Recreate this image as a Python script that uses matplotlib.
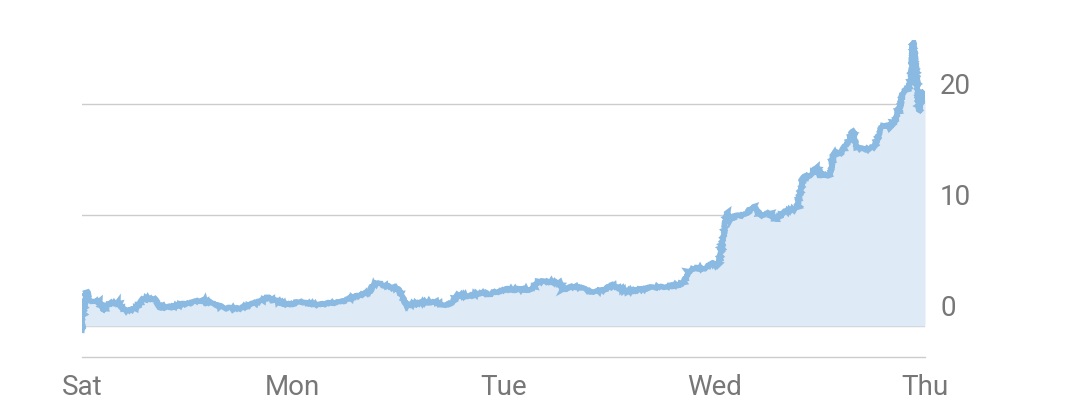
import matplotlib
matplotlib.use("Agg")
import matplotlib.pyplot as plt

# time in day-index units (Sat=0 ... Thu=4), value
t = [0.000, 0.005, 0.014, 0.024, 0.033, 0.052, 0.085, 0.100, 0.133, 0.171,
     0.204, 0.251, 0.289, 0.313, 0.346, 0.370, 0.418, 0.465, 0.512, 0.584,
     0.617, 0.679, 0.750, 0.797, 0.854, 0.883, 0.916, 0.977, 1.034, 1.120,
     1.177, 1.224, 1.272, 1.319, 1.367, 1.381, 1.414, 1.461, 1.499, 1.518,
     1.533, 1.556, 1.604, 1.675, 1.722, 1.756, 1.784, 1.841, 1.888, 1.936,
     2.007, 2.078, 2.135, 2.164, 2.221, 2.268, 2.282, 2.339, 2.387, 2.425,
     2.482, 2.515, 2.586, 2.648, 2.719, 2.790, 2.852, 2.876, 2.909, 2.956,
     2.989, 3.023, 3.037, 3.051, 3.061, 3.075, 3.099, 3.146, 3.184, 3.218,
     3.265, 3.288, 3.336, 3.393, 3.407, 3.421, 3.454, 3.488, 3.502, 3.549,
     3.568, 3.597, 3.634, 3.658, 3.677, 3.715, 3.763, 3.786, 3.810, 3.834,
     3.858, 3.881, 3.896, 3.919, 3.934, 3.943, 3.953, 3.962, 3.972, 3.981,
     3.991, 4.000]
values = [-0.4, 0.7, 2.4, 3.1, 2.4, 2.2, 2.2, 1.3, 2.1, 2.1,
          1.4, 1.5, 2.4, 2.5, 2.4, 1.7, 1.7, 1.9, 2.1, 2.3,
          2.0, 1.6, 1.6, 1.9, 2.3, 2.6, 2.3, 1.9, 2.2, 1.9,
          2.1, 2.1, 2.5, 2.8, 3.1, 3.8, 3.8, 3.5, 3.4, 2.7,
          1.9, 1.9, 2.1, 2.2, 1.8, 2.1, 2.8, 2.7, 3.0, 2.9,
          3.3, 3.3, 3.3, 4.0, 4.0, 3.9, 3.3, 3.6, 3.3, 3.0,
          3.3, 3.7, 3.1, 3.3, 3.5, 3.6, 3.8, 4.9, 5.2, 5.2,
          5.6, 5.5, 7.3, 9.1, 10.3, 9.4, 9.9, 10.0, 10.8, 10.0,
          10.2, 9.6, 10.3, 10.6, 11.9, 13.4, 13.6, 14.3, 13.6, 13.6,
          15.7, 15.5, 16.6, 17.6, 16.1, 15.9, 16.2, 17.7, 18.2, 17.9,
          18.6, 19.8, 21.1, 21.4, 22.3, 25.6, 23.9, 22.3, 19.3, 20.5,
          21.2, 20.3]

x_ticks = [0, 1, 2, 3, 4]
x_labels = ["Sat", "Mon", "Tue", "Wed", "Thu"]
y_ticks = [0, 10, 20]

plt.rcParams['font.family'] = ['Roboto', 'DejaVu Sans']

fig = plt.figure(figsize=(10.8, 4.0), dpi=100)
ax = fig.add_axes([82 / 1080, 43 / 400, (925 - 82) / 1080, (357 - 40) / 400])

line_color = "#8ab9e1"
fill_color = "#deeaf5"
grid_color = "#cccccc"
text_color = "#777777"

ax.fill_between(t, values, 0, color=fill_color, linewidth=0, zorder=1)
ln, = ax.plot(t, values, color=line_color, linewidth=3.8, zorder=3,
              solid_joinstyle="miter")
ln.set_sketch_params(scale=1.0, length=1.0, randomness=2.0)

for v in y_ticks:
    ax.axhline(v, color=grid_color, linewidth=1.0, zorder=0)
    ax.annotate(str(v), xy=(1, v), xycoords=("axes fraction", "data"),
                xytext=(15, 10), textcoords="offset pixels",
                ha="left", va="baseline", fontsize=20, color=text_color)

ax.set_xlim(0, 4)
ax.set_ylim(-2.8, 25.8)
ax.set_xticks(x_ticks)
ax.set_xticklabels(x_labels)
ax.set_yticks([])
ax.tick_params(axis="x", length=0, pad=12, labelsize=20, labelcolor=text_color)

for s in ["top", "left", "right"]:
    ax.spines[s].set_visible(False)
ax.spines["bottom"].set_color(grid_color)
ax.spines["bottom"].set_linewidth(1.0)

fig.savefig("out.png", dpi=100)
